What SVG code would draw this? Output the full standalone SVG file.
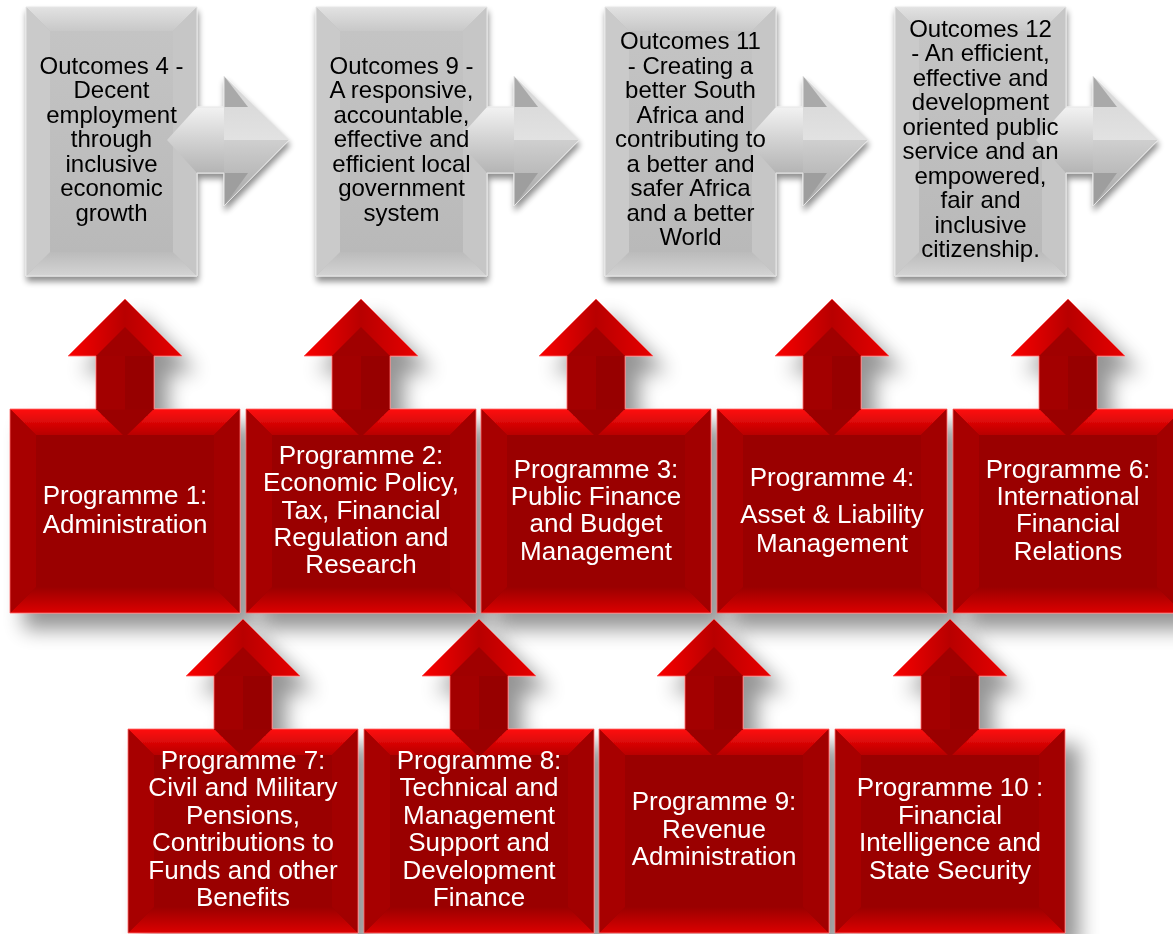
<svg xmlns="http://www.w3.org/2000/svg" xmlns:xlink="http://www.w3.org/1999/xlink" width="1173" height="934" viewBox="0 0 1173 934">
  <style>
    .gtxt { font-family: "Liberation Sans", Arial, sans-serif; font-size: 24px; fill: #000; text-anchor: middle; }
    .rtxt { font-family: "Liberation Sans", Arial, sans-serif; font-size: 26px; fill: #fff; text-anchor: middle; }
  </style>
  <defs>
    <!-- drop shadows -->
    <filter id="redShadow" x="-20%" y="-20%" width="150%" height="150%">
      <feGaussianBlur in="SourceAlpha" stdDeviation="10"/>
      <feOffset dx="14" dy="16" result="blur"/>
      <feComponentTransfer><feFuncA type="linear" slope="0.42"/></feComponentTransfer>
      <feMerge><feMergeNode/><feMergeNode in="SourceGraphic"/></feMerge>
    </filter>
    <filter id="grayShadow" x="-20%" y="-20%" width="150%" height="150%">
      <feGaussianBlur in="SourceAlpha" stdDeviation="3"/>
      <feOffset dx="1" dy="5"/>
      <feComponentTransfer><feFuncA type="linear" slope="0.45"/></feComponentTransfer>
      <feMerge><feMergeNode/><feMergeNode in="SourceGraphic"/></feMerge>
    </filter>

    <!-- red bevel gradients -->
    <linearGradient id="rTop" x1="0" y1="0" x2="0" y2="1">
      <stop offset="0" stop-color="#ff0d0d"/>
      <stop offset="1" stop-color="#b80000"/>
    </linearGradient>
    <linearGradient id="rBot" x1="0" y1="0" x2="0" y2="1">
      <stop offset="0" stop-color="#9a0000"/>
      <stop offset="1" stop-color="#dc0000"/>
    </linearGradient>
    <linearGradient id="rHead" x1="0" y1="0" x2="1" y2="0">
      <stop offset="0" stop-color="#fa0000"/>
      <stop offset="0.5" stop-color="#b80000"/>
      <stop offset="1" stop-color="#e80000"/>
    </linearGradient>

    <!-- gray bevel gradients -->
    <linearGradient id="gTop" x1="0" y1="0" x2="0" y2="1">
      <stop offset="0" stop-color="#e2e2e2"/>
      <stop offset="1" stop-color="#c8c8c8"/>
    </linearGradient>
    <linearGradient id="gBot" x1="0" y1="0" x2="0" y2="1">
      <stop offset="0" stop-color="#bbbbbb"/>
      <stop offset="1" stop-color="#d4d4d4"/>
    </linearGradient>
    <linearGradient id="gMid" x1="0" y1="0" x2="0" y2="1">
      <stop offset="0" stop-color="#c4c4c4"/>
      <stop offset="1" stop-color="#b9b9b9"/>
    </linearGradient>
    <linearGradient id="gShaft" x1="0" y1="0" x2="0" y2="1">
      <stop offset="0" stop-color="#f2f2f2"/>
      <stop offset="0.5" stop-color="#d2d2d2"/>
      <stop offset="1" stop-color="#b4b4b4"/>
    </linearGradient>
    <linearGradient id="gHeadUp" x1="0" y1="0" x2="0" y2="1">
      <stop offset="0" stop-color="#d4d4d4"/>
      <stop offset="1" stop-color="#e2e2e2"/>
    </linearGradient>
    <linearGradient id="gHeadLo" x1="0" y1="0" x2="0" y2="1">
      <stop offset="0" stop-color="#cfcfcf"/>
      <stop offset="1" stop-color="#a6a6a6"/>
    </linearGradient>

    <!-- programme box with upward arrow (box 230 x 204, arrow tip 110 above) -->
    <g id="redShape">
      <path d="M0,0 H86 V-53 H58 L115,-110 L172,-53 H144 V0 H230 V204 H0 Z" fill="#9a0000"/>
      <polygon points="0,0 230,0 204,26 26,26" fill="url(#rTop)"/>
      <polygon points="0,204 230,204 204,178 26,178" fill="url(#rBot)"/>
      <polygon points="0,0 26,26 26,178 0,204" fill="#a70000"/>
      <polygon points="230,0 204,26 204,178 230,204" fill="#a20000"/>
      <polygon points="86,0 144,0 115,28" fill="#9b0000"/>
      <rect x="86" y="-54" width="29" height="54.5" fill="#a30000"/>
      <rect x="115" y="-54" width="29" height="54.5" fill="#970000"/>
      <polygon points="58,-53 115,-110 172,-53" fill="url(#rHead)"/>
      <polygon points="86,-53 115,-82 144,-53" fill="#a00000"/>
      <path d="M0,0 H86 V-53 H58 L115,-110 L172,-53 H144 V0 H230 V204 H0 Z" fill="none" stroke="#ff6a6a" stroke-width="1" stroke-opacity="0.8"/>
    </g>

    <!-- outcome box with right arrow (box 171 x 269, arrow tip 263 right) -->
    <g id="grayShape">
      <path d="M0,0 H171 V100 H198 V69 L263,133 L198,199 V166 H171 V269 H0 Z" fill="#c0c0c0"/>
      <rect x="24" y="24" width="123" height="221" fill="url(#gMid)"/>
      <polygon points="0,0 171,0 147,24 24,24" fill="url(#gTop)"/>
      <polygon points="0,269 171,269 147,245 24,245" fill="url(#gBot)"/>
      <polygon points="0,0 24,24 24,245 0,269" fill="#cacaca"/>
      <polygon points="171,0 147,24 147,245 171,269" fill="#c6c6c6"/>
      <polygon points="141,133 171,100 198,100 198,166 171,166" fill="url(#gShaft)"/>
      <polygon points="198,69 263,133 198,133" fill="url(#gHeadUp)"/>
      <polygon points="198,133 263,133 198,199" fill="url(#gHeadLo)"/>
      <polygon points="198,69 222,100 198,100" fill="#a9a9a9"/>
      <polygon points="198,199 222,166 198,166" fill="#9e9e9e"/>
      <path d="M0,0 H171 V100 H198 V69 L263,133 L198,199 V166 H171 V269 H0 Z" fill="none" stroke="#e6e6e6" stroke-width="1"/>
    </g>
  </defs>

  <rect width="1173" height="934" fill="#ffffff"/>

  <!-- outcomes row -->
  <g id="outcome-4" filter="url(#grayShadow)">
    <use xlink:href="#grayShape" x="26" y="7"/>
    <text class="gtxt"><tspan x="111.5" y="73.5">Outcomes 4 -</tspan><tspan x="111.5" y="98">Decent</tspan><tspan x="111.5" y="122.5">employment</tspan><tspan x="111.5" y="147">through</tspan><tspan x="111.5" y="171.5">inclusive</tspan><tspan x="111.5" y="196">economic</tspan><tspan x="111.5" y="220.5">growth</tspan></text>
  </g>
  <g id="outcome-9" filter="url(#grayShadow)">
    <use xlink:href="#grayShape" x="316" y="7"/>
    <text class="gtxt"><tspan x="401.5" y="73.5">Outcomes 9 -</tspan><tspan x="401.5" y="98">A responsive,</tspan><tspan x="401.5" y="122.5">accountable,</tspan><tspan x="401.5" y="147">effective and</tspan><tspan x="401.5" y="171.5">efficient local</tspan><tspan x="401.5" y="196">government</tspan><tspan x="401.5" y="220.5">system</tspan></text>
  </g>
  <g id="outcome-11" filter="url(#grayShadow)">
    <use xlink:href="#grayShape" x="605" y="7"/>
    <text class="gtxt"><tspan x="690.5" y="49">Outcomes 11</tspan><tspan x="690.5" y="73.5">- Creating a</tspan><tspan x="690.5" y="98">better South</tspan><tspan x="690.5" y="122.5">Africa and</tspan><tspan x="690.5" y="147">contributing to</tspan><tspan x="690.5" y="171.5">a better and</tspan><tspan x="690.5" y="196">safer Africa</tspan><tspan x="690.5" y="220.5">and a better</tspan><tspan x="690.5" y="245">World</tspan></text>
  </g>
  <g id="outcome-12" filter="url(#grayShadow)">
    <use xlink:href="#grayShape" x="895" y="7"/>
    <text class="gtxt"><tspan x="980.5" y="36.75">Outcomes 12</tspan><tspan x="980.5" y="61.25">- An efficient,</tspan><tspan x="980.5" y="85.75">effective and</tspan><tspan x="980.5" y="110.25">development</tspan><tspan x="980.5" y="134.75">oriented public</tspan><tspan x="980.5" y="159.25">service and an</tspan><tspan x="980.5" y="183.75">empowered,</tspan><tspan x="980.5" y="208.25">fair and</tspan><tspan x="980.5" y="232.75">inclusive</tspan><tspan x="980.5" y="257.25">citizenship.</tspan></text>
  </g>

  <!-- programme row 1 -->
  <g id="programme-1" filter="url(#redShadow)">
    <use xlink:href="#redShape" x="10" y="409"/>
    <text class="rtxt"><tspan x="125" y="504">Programme 1:</tspan><tspan x="125" y="533">Administration</tspan></text>
  </g>
  <g id="programme-2" filter="url(#redShadow)">
    <use xlink:href="#redShape" x="246" y="409"/>
    <text class="rtxt"><tspan x="361" y="464">Programme 2:</tspan><tspan x="361" y="491.3">Economic Policy,</tspan><tspan x="361" y="518.5">Tax, Financial</tspan><tspan x="361" y="545.8">Regulation and</tspan><tspan x="361" y="573">Research</tspan></text>
  </g>
  <g id="programme-3" filter="url(#redShadow)">
    <use xlink:href="#redShape" x="481" y="409"/>
    <text class="rtxt"><tspan x="596" y="477.5">Programme 3:</tspan><tspan x="596" y="504.8">Public Finance</tspan><tspan x="596" y="532.2">and Budget</tspan><tspan x="596" y="559.5">Management</tspan></text>
  </g>
  <g id="programme-4" filter="url(#redShadow)">
    <use xlink:href="#redShape" x="717" y="409"/>
    <text class="rtxt"><tspan x="832" y="486">Programme 4:</tspan><tspan x="832" y="523.3">Asset &amp; Liability</tspan><tspan x="832" y="551.7">Management</tspan></text>
  </g>
  <g id="programme-6" filter="url(#redShadow)">
    <use xlink:href="#redShape" x="953" y="409"/>
    <text class="rtxt"><tspan x="1068" y="477.5">Programme 6:</tspan><tspan x="1068" y="504.8">International</tspan><tspan x="1068" y="532.2">Financial</tspan><tspan x="1068" y="559.5">Relations</tspan></text>
  </g>

  <!-- programme row 2 -->
  <g id="programme-7" filter="url(#redShadow)">
    <use xlink:href="#redShape" x="128" y="729"/>
    <text class="rtxt"><tspan x="243" y="768.75">Programme 7:</tspan><tspan x="243" y="796.25">Civil and Military</tspan><tspan x="243" y="823.75">Pensions,</tspan><tspan x="243" y="851.25">Contributions to</tspan><tspan x="243" y="878.75">Funds and other</tspan><tspan x="243" y="906.25">Benefits</tspan></text>
  </g>
  <g id="programme-8" filter="url(#redShadow)">
    <use xlink:href="#redShape" x="364" y="729"/>
    <text class="rtxt"><tspan x="479" y="768.75">Programme 8:</tspan><tspan x="479" y="796.25">Technical and</tspan><tspan x="479" y="823.75">Management</tspan><tspan x="479" y="851.25">Support and</tspan><tspan x="479" y="878.75">Development</tspan><tspan x="479" y="906.25">Finance</tspan></text>
  </g>
  <g id="programme-9" filter="url(#redShadow)">
    <use xlink:href="#redShape" x="599" y="729"/>
    <text class="rtxt"><tspan x="714" y="810">Programme 9:</tspan><tspan x="714" y="837.5">Revenue</tspan><tspan x="714" y="865">Administration</tspan></text>
  </g>
  <g id="programme-10" filter="url(#redShadow)">
    <use xlink:href="#redShape" x="835" y="729"/>
    <text class="rtxt"><tspan x="950" y="796.25">Programme 10 :</tspan><tspan x="950" y="823.75">Financial</tspan><tspan x="950" y="851.25">Intelligence and</tspan><tspan x="950" y="878.75">State Security</tspan></text>
  </g>
</svg>
